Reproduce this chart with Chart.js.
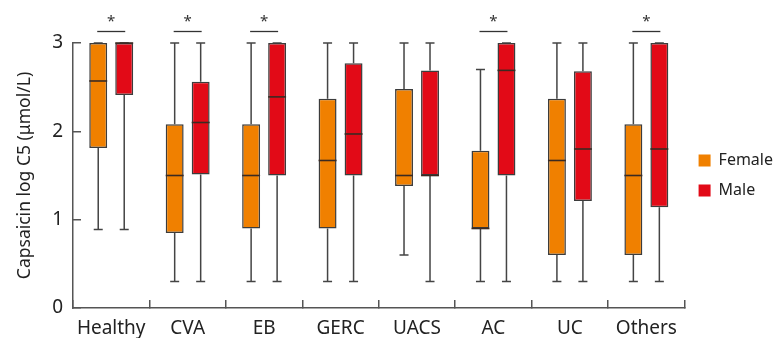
<!DOCTYPE html>
<html>
<head>
<meta charset="utf-8">
<script src="https://cdn.jsdelivr.net/npm/chart.js@4"></script>
<style>
html,body{margin:0;padding:0;background:#fff;}
#wrap{width:779px;height:338px;}
</style>
</head>
<body>
<div id="wrap"><canvas id="c" width="779" height="338"></canvas></div>
<script>
const categories = ['Healthy','CVA','EB','GERC','UACS','AC','UC','Others'];
const femaleMin    = [0.89, 0.30, 0.30, 0.30, 0.60, 0.30, 0.30, 0.30];
const femaleQ1     = [1.81, 0.85, 0.90, 0.90, 1.38, 0.90, 0.60, 0.60];
const femaleMedian = [2.57, 1.50, 1.50, 1.67, 1.50, 0.90, 1.67, 1.50];
const femaleQ3     = [3.00, 2.08, 2.08, 2.37, 2.48, 1.78, 2.37, 2.08];
const femaleMax    = [3.00, 3.00, 3.00, 3.00, 3.00, 2.70, 3.00, 3.00];
const maleMin      = [0.89, 0.30, 0.30, 0.30, 0.30, 0.30, 0.30, 0.30];
const maleQ1       = [2.41, 1.51, 1.50, 1.50, 1.50, 1.50, 1.21, 1.14];
const maleMedian   = [3.00, 2.10, 2.39, 1.97, 1.50, 2.69, 1.80, 1.80];
const maleQ3       = [3.00, 2.56, 3.00, 2.77, 2.69, 3.00, 2.68, 3.00];
const maleMax      = [3.00, 3.00, 3.00, 3.00, 3.00, 3.00, 3.00, 3.00];
const significant  = [true, true, true, false, false, true, false, true];
const yTicks = [0, 1, 2, 3];

const FONT = '"Noto Sans", "Open Sans", sans-serif';
const stats = [
  {min: femaleMin, med: femaleMedian, max: femaleMax, q1: femaleQ1, q3: femaleQ3},
  {min: maleMin, med: maleMedian, max: maleMax, q1: maleQ1, q3: maleQ3}
];

const boxPlugin = {
  id: 'boxparts',
  beforeDatasetsDraw(chart) {
    const ctx = chart.ctx, y = chart.scales.y;
    ctx.save();
    ctx.strokeStyle = '#444';
    ctx.lineWidth = 1.5;
    stats.forEach((s, di) => {
      chart.getDatasetMeta(di).data.forEach((bar, i) => {
        const x = bar.x, cap = 4.5;
        const pMax = y.getPixelForValue(s.max[i]), pMin = y.getPixelForValue(s.min[i]);
        const pQ1 = y.getPixelForValue(s.q1[i]), pQ3 = y.getPixelForValue(s.q3[i]);
        ctx.beginPath();
        ctx.moveTo(x, pMax); ctx.lineTo(x, pQ3);
        ctx.moveTo(x, pQ1); ctx.lineTo(x, pMin);
        ctx.moveTo(x - cap, pMax); ctx.lineTo(x + cap, pMax);
        ctx.moveTo(x - cap, pMin); ctx.lineTo(x + cap, pMin);
        ctx.stroke();
      });
    });
    ctx.restore();
  },
  afterDatasetsDraw(chart) {
    const ctx = chart.ctx, y = chart.scales.y;
    ctx.save();
    ctx.strokeStyle = '#3a2a22';
    ctx.lineWidth = 1.6;
    stats.forEach((s, di) => {
      chart.getDatasetMeta(di).data.forEach((bar, i) => {
        const p = y.getPixelForValue(s.med[i]);
        ctx.beginPath();
        ctx.moveTo(bar.x - bar.width / 2, p);
        ctx.lineTo(bar.x + bar.width / 2, p);
        ctx.stroke();
      });
    });
    const f = chart.getDatasetMeta(0).data, m = chart.getDatasetMeta(1).data;
    ctx.strokeStyle = '#333';
    ctx.fillStyle = '#333';
    ctx.lineWidth = 1.3;
    ctx.font = '15px ' + FONT;
    ctx.textAlign = 'center';
    ctx.textBaseline = 'middle';
    significant.forEach((sig, i) => {
      if (!sig) return;
      const ly = y.getPixelForValue(3) - 11.5;
      ctx.beginPath();
      ctx.moveTo(f[i].x - 1, ly); ctx.lineTo(m[i].x + 1, ly);
      ctx.stroke();
      ctx.fillText('*', (f[i].x + m[i].x) / 2, ly - 10);
    });
    ctx.restore();
  }
};

new Chart(document.getElementById('c'), {
  type: 'bar',
  data: {
    labels: categories,
    datasets: [
      {label: 'Female', data: femaleQ1.map((v, i) => [v, femaleQ3[i]]),
       backgroundColor: '#F08000', borderColor: '#3c3c3c', borderWidth: 1.5, borderSkipped: false},
      {label: 'Male', data: maleQ1.map((v, i) => [v, maleQ3[i]]),
       backgroundColor: '#E20A17', borderColor: '#3c3c3c', borderWidth: 1.5, borderSkipped: false}
    ]
  },
  options: {
    responsive: false,
    animation: false,
    devicePixelRatio: 1,
    categoryPercentage: 0.68,
    barPercentage: 0.69,
    layout: {padding: {top: 43, left: 12, right: -4, bottom: 0}},
    plugins: {
      tooltip: {enabled: false},
      legend: {
        position: 'right',
        fullSize: false,
        labels: {
          boxWidth: 12, boxHeight: 12, padding: 14,
          color: '#222',
          font: {family: FONT, size: 16},
          generateLabels(chart) {
            return chart.data.datasets.map((ds, i) => ({
              text: ds.label, fillStyle: ds.backgroundColor, strokeStyle: ds.backgroundColor,
              lineWidth: 0, datasetIndex: i, hidden: false, fontColor: '#222'
            }));
          }
        },
        onClick: null
      }
    },
    scales: {
      x: {
        grid: {offset: true, drawOnChartArea: false, color: '#555', lineWidth: 1.5, tickLength: -8},
        border: {color: '#555', width: 1.5},
        ticks: {color: '#222', padding: 17, font: {family: FONT, size: 19}, maxRotation: 0},
        afterFit(s) { s.height = 30; }
      },
      y: {
        min: 0, max: 3,
        afterBuildTicks(s) { s.ticks = yTicks.map(v => ({value: v})); },
        grid: {drawOnChartArea: false, color: '#555', lineWidth: 1.5, tickLength: -8},
        border: {color: '#555', width: 1.5},
        ticks: {color: '#222', padding: 18, font: {family: FONT, size: 19}},
        title: {display: true, text: 'Capsaicin log C5 (μmol/L)', color: '#222',
                font: {family: FONT, size: 17.5}, padding: {top: 3, bottom: 0}},
        afterFit(s) { s.width = 61; }
      }
    }
  },
  plugins: [boxPlugin]
});
</script>
</body>
</html>
